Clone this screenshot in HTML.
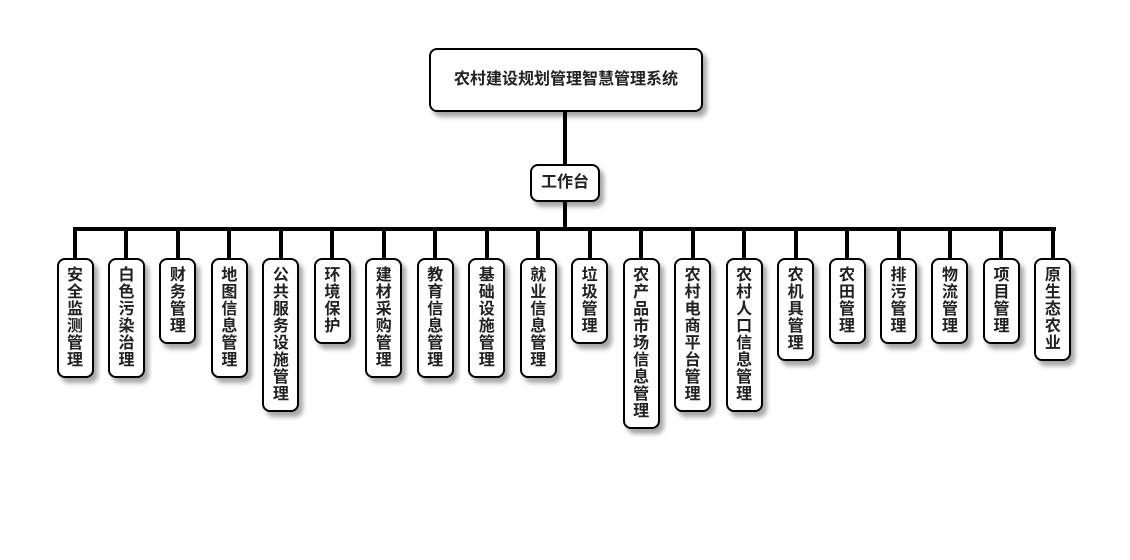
<!DOCTYPE html>
<html><head><meta charset="utf-8"><style>
body{margin:0;width:1130px;height:560px;background:#fff;position:relative;overflow:hidden;font-family:"Liberation Sans","Noto Sans CJK SC",sans-serif;font-weight:bold;color:#222}
.b{position:absolute;background:#fff;border:2px solid #000;border-radius:8px;box-shadow:4px 5px 5px rgba(0,0,0,0.35);box-sizing:border-box;text-align:center}
.l{position:absolute;background:#000}
.c{width:37px;top:258px;font-size:16px;line-height:17px;padding-top:7px}
</style></head><body>
<div class="b" style="left:429px;top:48px;width:274px;height:64px;font-size:16px;line-height:60px">农村建设规划管理智慧管理系统</div>
<div class="l" style="left:563px;top:111px;width:4px;height:54px"></div>
<div class="b" style="left:530px;top:164px;width:70px;height:38px;font-size:16px;line-height:34px">工作台</div>
<div class="l" style="left:563px;top:201px;width:4px;height:30px"></div>
<div class="l" style="left:73px;top:227px;width:983px;height:4px"></div>
<div id="k"></div>
<script>
var t=["安全监测管理","白色污染治理","财务管理","地图信息管理","公共服务设施管理","环境保护","建材采购管理","教育信息管理","基础设施管理","就业信息管理","垃圾管理","农产品市场信息管理","农村电商平台管理","农村人口信息管理","农机具管理","农田管理","排污管理","物流管理","项目管理","原生态农业"];
var h="";
for(var i=0;i<20;i++){var cx=75+i*51.47;
h+='<div class="l" style="left:'+(cx-2)+'px;top:229px;width:4px;height:30px"></div>';
h+='<div class="b c" style="left:'+(cx-18.5)+'px;height:'+(17*t[i].length+18)+'px">'+t[i].split("").join("<br>")+'</div>';}
document.getElementById("k").innerHTML=h;
</script>
</body></html>
